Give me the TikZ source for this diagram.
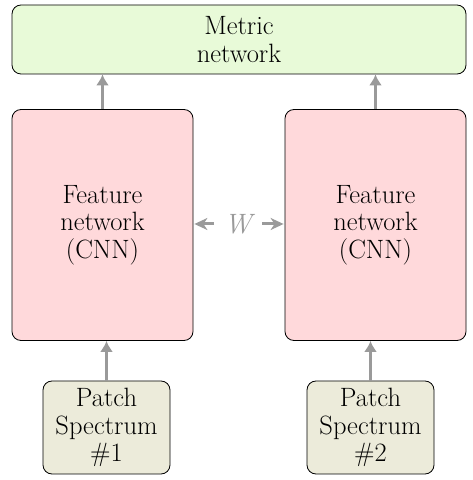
\documentclass[tikz,border=0pt]{standalone}
\usetikzlibrary{arrows.meta}
\definecolor{metricfill}{HTML}{E8FAD8}
\definecolor{featfill}{HTML}{FFD9DB}
\definecolor{patchfill}{HTML}{ECEBDA}
\definecolor{arrgray}{HTML}{9A9A9A}
\tikzset{
  box/.style={draw=black, line width=0.8pt, rounded corners=9pt, align=center,
    font=\fontsize{26.5}{27.5}\selectfont, inner sep=0pt},
  flow/.style={draw=arrgray, line width=3.2pt, -{Latex[length=11pt,width=13pt]}},
  wflow/.style={draw=arrgray, line width=3pt, -{Stealth[length=13pt,width=12pt,inset=4pt]}},
}
\begin{document}
\begin{tikzpicture}[x=1pt,y=1pt]
\useasboundingbox (0,0) rectangle (472,480);
\node[box, fill=metricfill, minimum width=454pt, minimum height=69pt] (metric) at (239,440.5) {Metric\\network};
\node[box, fill=featfill, minimum width=181pt, minimum height=231pt] (f1) at (102.5,255) {Feature\\network\\(CNN)};
\node[box, fill=featfill, minimum width=181pt, minimum height=231pt] (f2) at (375.5,255) {Feature\\network\\(CNN)};
\node[box, fill=patchfill, minimum width=127pt, minimum height=93pt] (p1) at (106.5,52.5) {Patch\\Spectrum\\\#1};
\node[box, fill=patchfill, minimum width=127pt, minimum height=93pt] (p2) at (370.5,52.5) {Patch\\Spectrum\\\#2};
\node[text=arrgray, font=\fontsize{28}{30}\selectfont\itshape, inner sep=0pt] (w) at (238,256) {W};
\coordinate (wl) at (214,256);
\coordinate (wr) at (262,256);
\draw[flow] (f1.north) -- (f1.north |- metric.south);
\draw[flow] (f2.north) -- (f2.north |- metric.south);
\draw[flow] (p1.north) -- (p1.north |- f1.south);
\draw[flow] (p2.north) -- (p2.north |- f2.south);
\draw[wflow] (wl) -- ([xshift=1pt]wl -| f1.east);
\draw[wflow] (wr) -- ([xshift=-1pt]wr -| f2.west);
\end{tikzpicture}
\end{document}
